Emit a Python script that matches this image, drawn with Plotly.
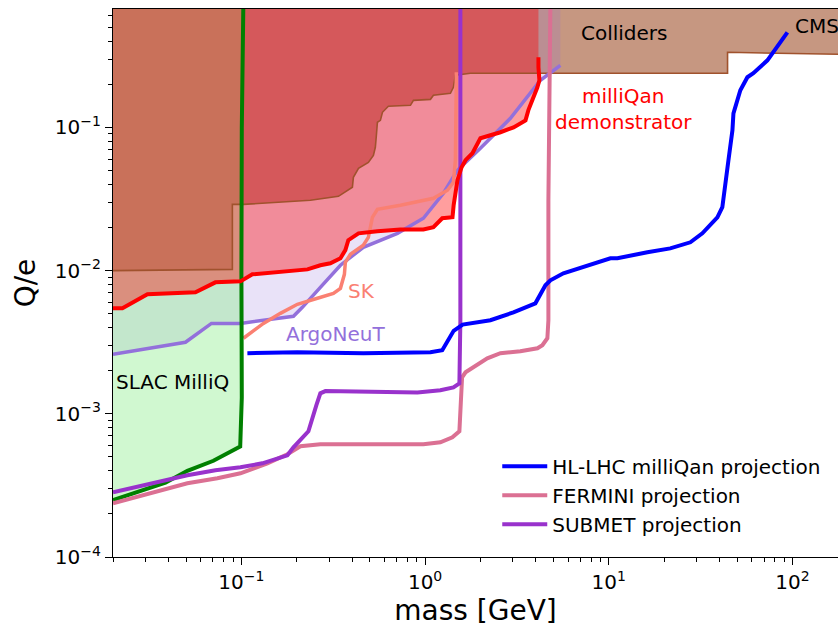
import math
import plotly.graph_objects as go

# ---------------- data (mass in GeV, Q/e) ----------------
colliders_x = [0.02, 0.0893, 0.0893, 0.1025, 0.2375, 0.3375, 0.402, 0.407, 0.434, 0.491, 0.523,
               0.536, 0.543, 0.550, 0.571, 0.586, 0.631, 0.832, 0.864, 1.069, 1.11, 1.373,
               1.426, 1.462, 1.765, 44.3, 44.3, 200.0]
colliders_y = [0.0100, 0.0102, 0.0290, 0.0290, 0.0310, 0.0330, 0.0382, 0.0448, 0.0518, 0.0570, 0.0638,
               0.0726, 0.0881, 0.1087, 0.1120, 0.1275, 0.1404, 0.1426, 0.1545, 0.1570, 0.1675, 0.1730,
               0.1905, 0.2310, 0.2387, 0.2387, 0.3345, 0.3230]

demo_x = [0.02, 0.0225, 0.0308, 0.0562, 0.0722, 0.0988, 0.1148, 0.229, 0.269, 0.305, 0.346, 0.368,
          0.382, 0.434, 0.55, 0.734, 0.979, 1.11, 1.24, 1.41, 1.43, 1.50, 1.58, 1.66, 1.81, 2.0,
          2.57, 3.03, 3.52, 3.65, 4.08, 4.19, 4.14, 4.14]
demo_y = [0.00546, 0.00546, 0.00683, 0.00706, 0.00828, 0.00841, 0.00942, 0.0102, 0.0109, 0.01125,
          0.0122, 0.0139, 0.0163, 0.0182, 0.0188, 0.0194, 0.0194, 0.0201, 0.0232, 0.0236, 0.0286,
          0.0428, 0.0527, 0.059, 0.066, 0.084, 0.0925, 0.100, 0.112, 0.132, 0.190, 0.213, 0.263, 0.309]

argo_x = [0.02, 0.0496, 0.0687, 0.0988, 0.192, 0.2147, 0.269, 0.346, 0.461, 0.707, 0.979, 1.258,
          1.499, 2.0, 2.913, 4.243, 5.45]
argo_y = [0.0026, 0.00316, 0.00428, 0.00428, 0.0048, 0.00554, 0.00764, 0.0109, 0.01455, 0.0182,
          0.0232, 0.0347, 0.0502, 0.0714, 0.1158, 0.2133, 0.2715]

sk_x = [0.1026, 0.1318, 0.163, 0.2017, 0.2593, 0.3168, 0.346, 0.3636, 0.368, 0.392, 0.461, 0.491,
        0.5165, 0.55, 0.734, 1.11, 1.323, 1.426, 1.462, 1.48]
sk_y = [0.00337, 0.00428, 0.00503, 0.00582, 0.00641, 0.00694, 0.00752, 0.00942, 0.01143, 0.0130,
        0.01502, 0.01708, 0.02355, 0.02682, 0.0286, 0.0320, 0.0364, 0.0414, 0.059, 0.2425]

slac_x = [0.02, 0.0386, 0.0508, 0.0704, 0.0985, 0.1005, 0.1, 0.1005, 0.1025]
slac_y = [0.00025, 0.00033, 0.0004, 0.00047, 0.00059, 0.0013, 0.01, 0.1, 0.75]

hl_x = [0.1078, 0.2017, 0.461, 1.069, 1.24, 1.43, 1.60, 2.267, 3.025, 3.984, 4.518, 4.81, 5.66,
        7.65, 10.2, 11.14, 13.11, 16.22, 21.6, 27.8, 32.3, 39.0, 41.5, 43.1, 44.8, 47.1, 47.7,
        52.0, 56.8, 61.2, 73.0, 93.8]
hl_y = [0.00265, 0.00269, 0.00265, 0.00269, 0.00278, 0.0038, 0.0042, 0.0045, 0.00511, 0.00591,
        0.0079, 0.00855, 0.00958, 0.0109, 0.0122, 0.0122, 0.0128, 0.01343, 0.0143, 0.01576, 0.0182,
        0.02356, 0.0277, 0.0382, 0.0589, 0.0954, 0.1254, 0.1816, 0.224, 0.2387, 0.294, 0.461]

fermini_x = [0.02, 0.0396, 0.0508, 0.074, 0.0988, 0.1385, 0.178, 0.2096, 0.269, 0.979, 1.211, 1.408,
             1.537, 1.565, 1.59, 1.66, 1.765, 2.18, 2.57, 3.30, 4.087, 4.35, 4.63, 4.69, 4.69, 4.75, 4.81]
fermini_y = [0.000237, 0.000297, 0.000327, 0.000355, 0.000384, 0.000451, 0.000522, 0.000593,
             0.000612, 0.000612, 0.000632, 0.000685, 0.000755, 0.0012, 0.0018, 0.00195, 0.00205,
             0.00244, 0.00265, 0.00273, 0.00287, 0.00301, 0.00337, 0.0045, 0.031, 0.294, 0.75]

submet_x = [0.02, 0.0396, 0.0508, 0.0722, 0.0988, 0.130, 0.178, 0.192, 0.2316, 0.256, 0.269, 0.2866,
            0.908, 1.211, 1.426, 1.537, 1.556, 1.556]
submet_y = [0.000283, 0.000343, 0.000372, 0.000403, 0.000423, 0.000451, 0.000513, 0.000583, 0.000755,
            0.00115, 0.00139, 0.00144, 0.00141, 0.00146, 0.00153, 0.00163, 0.0045, 0.75]

x_major = [0.1, 1, 10, 100]
x_major_text = ['10<sup>−1</sup>', '10<sup>0</sup>', '10<sup>1</sup>', '10<sup>2</sup>']
y_major = [1e-4, 1e-3, 1e-2, 1e-1]
y_major_text = ['10<sup>−4</sup>', '10<sup>−3</sup>', '10<sup>−2</sup>', '10<sup>−1</sup>']

TOP = 1.0
FONT = 'DejaVu Sans'

fig = go.Figure()


def upper_fill(xs, ys, color):
    fig.add_trace(go.Scatter(
        x=list(xs) + [xs[-1], xs[0]], y=list(ys) + [TOP, TOP],
        mode='lines', line=dict(width=0), fill='toself', fillcolor=color,
        hoverinfo='skip', showlegend=False))


def line(xs, ys, color, width):
    fig.add_trace(go.Scatter(x=xs, y=ys, mode='lines',
                             line=dict(color=color, width=width),
                             showlegend=False, hoverinfo='skip'))


# filled regions (bottom to top)
upper_fill(colliders_x, colliders_y, 'rgba(160,82,45,0.6)')
upper_fill(argo_x, argo_y, 'rgba(147,112,219,0.2)')
upper_fill(slac_x, slac_y, 'rgba(144,238,144,0.42)')
upper_fill(demo_x, demo_y, 'rgba(255,0,0,0.38)')

# boundary lines
line(colliders_x, colliders_y, 'sienna', 1.6)
line(argo_x, argo_y, 'mediumpurple', 3.5)
line(sk_x, sk_y, 'salmon', 3.5)
line(slac_x, slac_y, 'green', 4)
line(fermini_x, fermini_y, 'palevioletred', 4)
line(submet_x, submet_y, 'darkorchid', 4)
line(demo_x, demo_y, 'red', 4)
line(hl_x, hl_y, 'blue', 4)

# legend entries (ordered)
for nm, col in [('HL-LHC milliQan projection', 'blue'), ('FERMINI projection', 'palevioletred'),
                ('SUBMET projection', 'darkorchid')]:
    fig.add_trace(go.Scatter(x=[None], y=[None], mode='lines', name=nm,
                             line=dict(color=col, width=4), showlegend=True))

L = math.log10
ann = [
    ('Colliders', 12.2, 0.454, 'black', 'center'),
    ('CMS', 101, 0.508, 'black', 'left'),
    ('milliQan<br>demonstrator', 12.0, 0.1336, 'red', 'center'),
    ('SK', 0.45, 0.00717, 'salmon', 'center'),
    ('ArgoNeuT', 0.325, 0.00359, 'mediumpurple', 'center'),
    ('SLAC MilliQ', 0.0424, 0.00166, 'black', 'center'),
]
for t, x, y, c, xa in ann:
    fig.add_annotation(text=t, x=L(x), y=L(y), xref='x', yref='y', showarrow=False,
                       xanchor=xa, yanchor='middle', font=dict(family=FONT, size=20, color=c))

minor_x = [m * 10 ** k for k in range(-2, 3) for m in range(2, 10)]
minor_y = [m * 10 ** k for k in range(-4, 0) for m in range(2, 10)]

fig.update_layout(
    width=838, height=630,
    margin=dict(l=113, r=0, t=9, b=73, autoexpand=False),
    paper_bgcolor='white', plot_bgcolor='white',
    font=dict(family=FONT, size=20, color='black'),
    showlegend=True,
    legend=dict(x=0.53, y=0.201, xanchor='left', yanchor='top', bgcolor='rgba(255,255,255,0)',
                font=dict(family=FONT, size=20, color='black'), itemwidth=45,
                tracegroupgap=0),
    xaxis=dict(type='log', range=[L(0.02), L(0.02) + 725 / 183.7], showline=True, linecolor='black',
               linewidth=1.3, mirror=True, ticks='outside', ticklen=7, tickwidth=1.3, tickcolor='black',
               tickmode='array', tickvals=x_major, ticktext=x_major_text, showgrid=False,
               zeroline=False, tickfont=dict(size=20), automargin=False,
               minor=dict(tickmode='array', tickvals=minor_x, ticks='outside', ticklen=4,
                          tickwidth=1, tickcolor='black', showgrid=False),
               title=dict(text='mass [GeV]', font=dict(size=28), standoff=6)),
    yaxis=dict(type='log', range=[-4, -4 + 548 / 143.2], showline=True, linecolor='black',
               linewidth=1.3, mirror=False, ticks='outside', ticklen=7, tickwidth=1.3,
               tickcolor='black', tickmode='array', tickvals=y_major, ticktext=y_major_text,
               showgrid=False, zeroline=False, tickfont=dict(size=20), automargin=False,
               minor=dict(tickmode='array', tickvals=minor_y, ticks='outside', ticklen=4,
                          tickwidth=1, tickcolor='black', showgrid=False),
               title=dict(text='Q/e', font=dict(size=28), standoff=10)),
)

fig.write_html('out.html', config=dict(displayModeBar=False),
               post_script="document.body.style.margin='0';document.body.style.overflow='hidden';")
